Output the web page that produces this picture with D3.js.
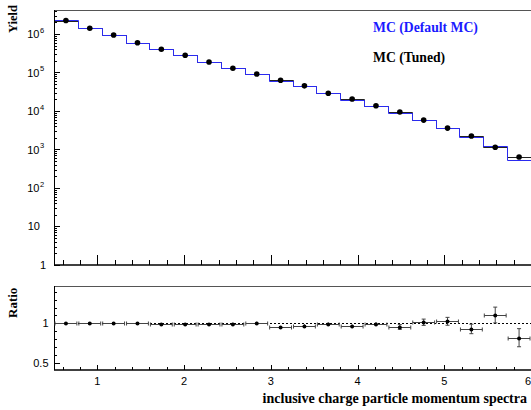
<!DOCTYPE html>
<html><head><meta charset="utf-8">
<script src="https://cdn.jsdelivr.net/npm/d3@7"></script>
<style>body{margin:0;background:#fff}svg{display:block}</style>
</head><body>
<svg id="c" width="531" height="410"></svg>
<script>
const binEdges = [0.5,0.775,1.05,1.325,1.6,1.875,2.15,2.425,2.7,2.975,3.25,3.525,3.8,4.075,4.35,4.625,4.9,5.175,5.45,5.725,6.0];
const tuned = [2.24e6,1.41e6,9.4e5,5.9e5,4.0e5,2.8e5,1.87e5,1.29e5,9.1e4,6.3e4,4.5e4,2.9e4,2.05e4,1.37e4,9.4e3,5.8e3,3.6e3,2.24e3,1.14e3,640];
const defaultMC = [2.25e6,1.42e6,9.45e5,5.93e5,3.96e5,2.77e5,1.85e5,1.28e5,9.15e4,5.99e4,4.37e4,2.87e4,1.97e4,1.36e4,8.96e3,5.88e3,3.69e3,2.08e3,1.26e3,523];
const ratio = [1.005,1.005,1.005,1.005,0.99,0.99,0.99,0.995,1.005,0.95,0.97,0.99,0.96,0.99,0.953,1.013,1.025,0.928,1.105,0.817];
const ratioErr = [0.008,0.008,0.008,0.008,0.008,0.01,0.01,0.012,0.014,0.016,0.018,0.02,0.022,0.025,0.03,0.04,0.05,0.06,0.1,0.115];
const xTicks = [1,2,3,4,5,6];
const yDecades = [1,10,100,1000,10000,100000,1000000];
const ratioTicks = [0.5,1];
const legendLabels = ["MC (Default MC)","MC (Tuned)"];
const xTitle = "inclusive charge particle momentum spectra";

const svg = d3.select("#c");
const X0=54, X1=531;
const x = d3.scaleLinear().domain([0.5,6.0]).range([X0,X1]);
const yT = d3.scaleLog().domain([1,4.2e6]).range([265,10]);
const yB = d3.scaleLinear().domain([0.407,1.473]).range([370,286]);
const sans = "'Liberation Sans', Arial, sans-serif";
const serif = "'Liberation Serif', 'Times New Roman', serif";

const bins = tuned.map((v,i)=>({lo:binEdges[i],hi:binEdges[i+1],c:(binEdges[i]+binEdges[i+1])/2,t:v,d:defaultMC[i],r:ratio[i],e:ratioErr[i]}));

function stepPath(vals){
  let p = "";
  vals.forEach((v,i)=>{
    const y = Math.round(yT(v))+0.5;
    p += (i===0? "M"+x(binEdges[0])+","+y : "L"+(Math.round(x(binEdges[i]))+0.5)+","+y) + "L"+(Math.round(x(binEdges[i+1]))+0.5)+","+y;
  });
  return p;
}

// Top panel frame
svg.append("line").attr("x1",X0).attr("x2",X1).attr("y1",10.5).attr("y2",10.5).attr("stroke","#555").attr("stroke-width",1);
// histograms
svg.append("path").attr("d",stepPath(tuned)).attr("fill","none").attr("stroke","#222").attr("stroke-width",1);
svg.append("path").attr("d",stepPath(defaultMC)).attr("fill","none").attr("stroke","#2a2af0").attr("stroke-width",1);
svg.append("g").selectAll("circle").data(bins).join("circle")
  .attr("cx",d=>x(d.c)).attr("cy",d=>yT(d.t)).attr("r",2.8).attr("fill","#000");

// top axes
svg.append("line").attr("x1",X0+0.5).attr("x2",X0+0.5).attr("y1",10).attr("y2",265).attr("stroke","#000");
svg.append("line").attr("x1",X0).attr("x2",X1).attr("y1",265).attr("y2",265).attr("stroke","#000").attr("stroke-width",1.5);
// y log ticks
const gy = svg.append("g");
for(let e=0;e<=6;e++){
  for(let m=1;m<=9;m++){
    const v = m*Math.pow(10,e);
    if(v>4.2e6) break;
    const yy = Math.round(yT(v))+0.5;
    gy.append("line").attr("x1",X0).attr("x2",X0+(m===1?6:3)).attr("y1",yy).attr("y2",yy).attr("stroke","#000");
  }
}
yDecades.forEach((v,i)=>{
  const yy = yT(v);
  if(v===1){
    gy.append("text").attr("x",46).attr("y",yy+4).attr("text-anchor","end").attr("font-family",sans).attr("font-size",11).text("1");
  } else if(v===10){
    gy.append("text").attr("x",40).attr("y",yy+4).attr("text-anchor","end").attr("font-family",sans).attr("font-size",11).text("10");
  } else {
    gy.append("text").attr("x",39.5).attr("y",yy+4.5).attr("text-anchor","end").attr("font-family",sans).attr("font-size",11).text("10");
    gy.append("text").attr("x",40).attr("y",yy-1).attr("font-family",sans).attr("font-size",7.5).text(String(Math.round(Math.log10(v))));
  }
});
// x ticks top panel
const gxT = svg.append("g");
const minorX = d3.range(6,61,2).map(k=>k/10);
minorX.forEach(v=>{
  const xx = Math.round(x(v))+0.5;
  const major = Math.abs(v-Math.round(v))<1e-6;
  gxT.append("line").attr("x1",xx).attr("x2",xx).attr("y1",265).attr("y2",265-(major?10:5)).attr("stroke","#000");
});

// Bottom panel
svg.append("line").attr("x1",X0).attr("x2",X1).attr("y1",286.5).attr("y2",286.5).attr("stroke","#555");
svg.append("line").attr("x1",X0+0.5).attr("x2",X0+0.5).attr("y1",286).attr("y2",370).attr("stroke","#000");
svg.append("line").attr("x1",X0).attr("x2",X1).attr("y1",370).attr("y2",370).attr("stroke","#000").attr("stroke-width",1.5);
svg.append("line").attr("x1",X0).attr("x2",X1).attr("y1",Math.round(yB(1))+0.5).attr("y2",Math.round(yB(1))+0.5).attr("stroke","#000").attr("stroke-dasharray","2,2");
// ratio y ticks
const gyB = svg.append("g");
d3.range(5,15).map(k=>k/10).forEach(v=>{
  const yy = Math.round(yB(v))+0.5;
  const major = (v===0.5||v===1);
  gyB.append("line").attr("x1",X0).attr("x2",X0+(major?6:3)).attr("y1",yy).attr("y2",yy).attr("stroke","#000");
});
ratioTicks.forEach(v=>{
  gyB.append("text").attr("x",48.5).attr("y",yB(v)+4).attr("text-anchor","end").attr("font-family",sans).attr("font-size",11).text(String(v));
});
const gxB = svg.append("g");
minorX.forEach(v=>{
  const xx = Math.round(x(v))+0.5;
  const major = Math.abs(v-Math.round(v))<1e-6;
  gxB.append("line").attr("x1",xx).attr("x2",xx).attr("y1",370).attr("y2",370-(major?5:3)).attr("stroke","#000");
});
xTicks.forEach(v=>{
  const last = v===xTicks[xTicks.length-1];
  gxB.append("text").attr("x",last? X1 : x(v)).attr("y",384.5).attr("text-anchor",last?"end":"middle").attr("font-family",sans).attr("font-size",11).text(String(v));
});
// ratio points with error bars
const ge = svg.append("g").attr("stroke","#444").attr("stroke-width",1);
bins.forEach(d=>{
  const cx=x(d.c), cy=Math.round(yB(d.r))+0.5;
  ge.append("line").attr("x1",x(d.lo)+1).attr("x2",x(d.hi)-1).attr("y1",cy).attr("y2",cy);
  ge.append("line").attr("x1",x(d.lo)+1).attr("x2",x(d.lo)+1).attr("y1",cy-2).attr("y2",cy+2);
  ge.append("line").attr("x1",x(d.hi)-1).attr("x2",x(d.hi)-1).attr("y1",cy-2).attr("y2",cy+2);
  const y1=yB(d.r+d.e), y2=yB(d.r-d.e);
  ge.append("line").attr("x1",cx).attr("x2",cx).attr("y1",y1).attr("y2",y2);
  if(y2-y1>4){
    ge.append("line").attr("x1",cx-2).attr("x2",cx+2).attr("y1",y1).attr("y2",y1);
    ge.append("line").attr("x1",cx-2).attr("x2",cx+2).attr("y1",y2).attr("y2",y2);
  }
});
svg.append("g").selectAll("circle").data(bins).join("circle")
  .attr("cx",d=>x(d.c)).attr("cy",d=>Math.round(yB(d.r))+0.5).attr("r",2).attr("fill","#000");

// Titles
svg.append("text").attr("transform","translate(16.5,33) rotate(-90)").attr("font-family",serif).attr("font-weight","bold").attr("font-size",12.5).text("Yield");
svg.append("text").attr("transform","translate(16.5,318) rotate(-90)").attr("font-family",serif).attr("font-weight","bold").attr("font-size",13).text("Ratio");
svg.append("text").attr("x",527).attr("y",403).attr("text-anchor","end").attr("font-family",serif).attr("font-weight","bold").attr("font-size",14).text(xTitle);
// Legend
svg.append("text").attr("x",373).attr("y",32).attr("font-family",serif).attr("font-weight","bold").attr("font-size",13.7).attr("fill","#1a1aff").text(legendLabels[0]);
svg.append("text").attr("x",373).attr("y",62).attr("font-family",serif).attr("font-weight","bold").attr("font-size",13.7).attr("fill","#000").text(legendLabels[1]);
</script>
</body></html>
